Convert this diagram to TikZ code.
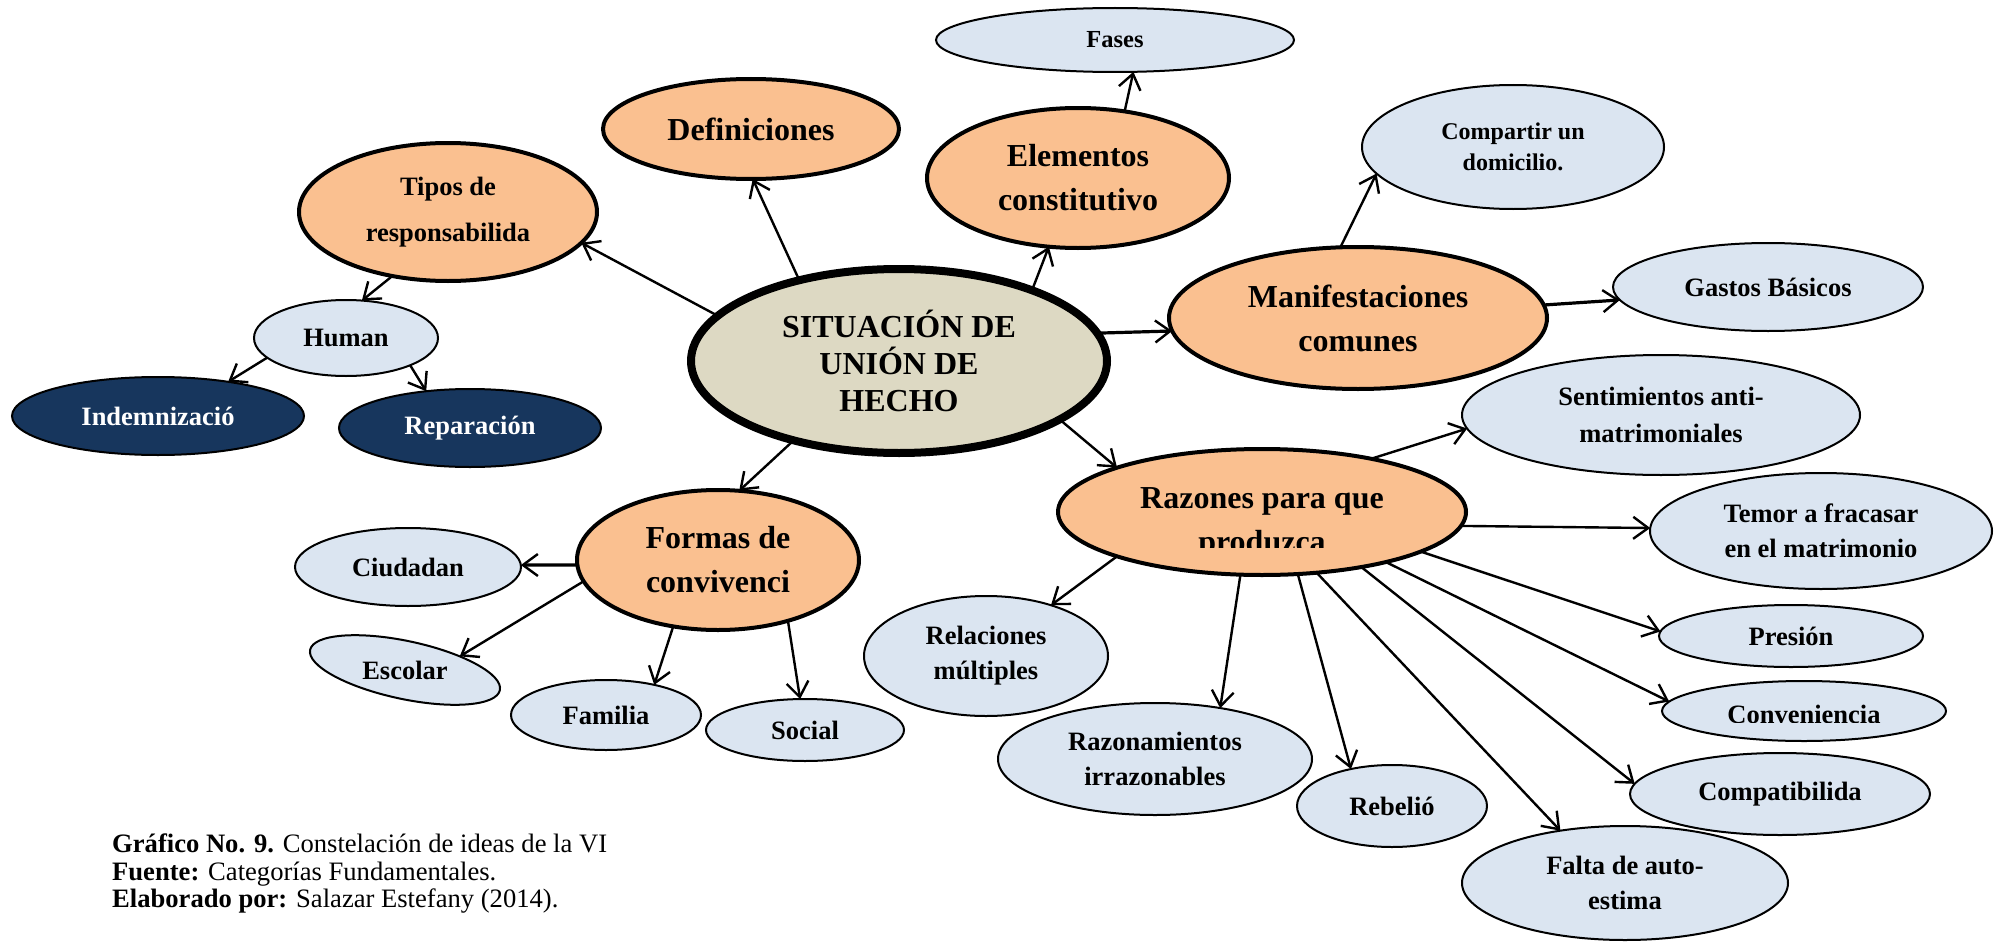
\documentclass[tikz,border=0pt]{standalone}
\usepackage{fontspec}
\setmainfont{Liberation Serif}
\usetikzlibrary{arrows.meta,shapes.geometric}
\definecolor{orangef}{HTML}{FAC090}
\definecolor{bluef}{HTML}{DBE5F1}
\definecolor{navyf}{HTML}{17365D}
\definecolor{centerf}{HTML}{DDD9C3}
\begin{document}
\begin{tikzpicture}[x=1pt,y=-1pt,
  base/.style={ellipse, draw=black, inner sep=0pt, outer sep=0pt, align=center, font=\bfseries\fontsize{26.5}{35}\selectfont},
  orangebox/.style={base, fill=orangef, line width=4pt, font=\bfseries\fontsize{32}{44}\selectfont},
  bluebox/.style={base, fill=bluef, line width=2pt},
  navybox/.style={base, fill=navyf, line width=2pt, text=white},
  mainbox/.style={base, fill=centerf, line width=8pt, font=\bfseries\fontsize{32}{37}\selectfont},
  wh/.style 2 args={minimum width=#1pt, minimum height=#2pt},
  arr/.style={line width=2.4pt, -{Straight Barb[length=15pt,width=22pt,line width=2.4pt]}},
  plaintext/.style={inner sep=0pt, outer sep=0pt, align=center},
]
\useasboundingbox (0,0) rectangle (1995,942);

% central node
\node[mainbox, wh={416}{184}] (center) at (899,361) {SITUACIÓN DE\\UNIÓN DE\\HECHO};

% upper left
\node[orangebox, wh={296}{100}] (defi) at (751,129) {Definiciones};
\node[orangebox, wh={298}{138}, font=\bfseries\fontsize{26.5}{46}\selectfont] (tipos) at (448,212) {Tipos de\\responsabilida};
\node[bluebox, wh={184}{76}] (human) at (346,338) {Human};
\node[navybox, wh={292}{78}] (indem) at (158,416) {Indemnizació};
\node[navybox, wh={262}{78}] (repar) at (470,428) {Reparación};

% upper right
\node[bluebox, wh={358}{64}, font=\bfseries\fontsize{24.5}{30}\selectfont] (fases) at (1115,40) {Fases};
\node[orangebox, wh={302}{140}] (elem) at (1078,178) {Elementos\\constitutivo};
\node[bluebox, wh={302}{124}, font=\bfseries\fontsize{24}{31}\selectfont] (compart) at (1513,147) {Compartir un\\domicilio.};
\node[orangebox, wh={378}{142}] (manif) at (1358,318) {Manifestaciones\\comunes};
\node[bluebox, wh={310}{88}] (gastos) at (1768,287) {Gastos Básicos};
\node[bluebox, wh={398}{120}, font=\bfseries\fontsize{26.5}{37}\selectfont] (senti) at (1661,415) {Sentimientos anti-\\matrimoniales};

% razones
\node[orangebox, wh={408}{126}] (razones) at (1262,512) {};
\begin{scope}
  \clip (1100,470) rectangle (1430,547);
  \node[plaintext, font=\bfseries\fontsize{32}{44}\selectfont] (raztext) at (1262,523) {Razones para que\\produzca};
\end{scope}
\node[bluebox, wh={342}{116}] (temor) at (1821,531) {Temor a fracasar\\en el matrimonio};
\node[bluebox, wh={264}{62}] (presion) at (1791,636) {Presión};
\node[bluebox, wh={284}{60}] (conven) at (1804,711) {};
\begin{scope}
  \clip (1700,690) rectangle (1910,722);
  \node[plaintext, font=\bfseries\fontsize{26.5}{35}\selectfont] (convtext) at (1804,714) {Conveniencia};
\end{scope}
\node[bluebox, wh={300}{82}] (compat) at (1780,794) {Compatibilida};
\node[bluebox, wh={326}{114}] (falta) at (1625,883) {Falta de auto-\\estima};
\node[bluebox, wh={190}{82}] (rebelio) at (1392,806) {Rebelió};
\node[bluebox, wh={314}{112}] (razonam) at (1155,759) {Razonamientos\\irrazonables};
\node[bluebox, wh={244}{120}] (relac) at (986,656) {Relaciones\\múltiples};

% formas
\node[orangebox, wh={282}{140}] (formas) at (718,560) {Formas de\\convivenci};
\node[bluebox, wh={226}{78}] (ciudad) at (408,567) {Ciudadan};
\node[bluebox, wh={194}{58}, rotate=-12] (escolar) at (405,670) {\rotatebox{12}{Escolar}};
\node[bluebox, wh={190}{70}] (familia) at (606,715) {Familia};
\node[bluebox, wh={198}{62}] (social) at (805,730) {Social};

% caption
\node[anchor=north west, align=left, inner sep=0pt, font=\fontsize{26.6}{27.5}\selectfont] (caption) at (112,834)
  {\textbf{Gráfico No. 9.} Constelación de ideas de la VI\\
   \textbf{Fuente:} Categorías Fundamentales.\\
   \textbf{Elaborado por:} Salazar Estefany (2014).};

% connectors
\draw[arr] (center.166) -- (tipos.-13);
\draw[arr] (center.141) -- (defi.-88);
\draw[arr] (tipos.-131) -- (human.67);
\draw[arr] (human.-166) -- (indem.26);
\draw[arr] (human.-23) -- (repar.140);
\draw[arr] (center.-143) -- (formas.73);
\draw[arr] (elem.55) -- (fases.-60);
\draw[arr] (center.28) -- (elem.-113);
\draw[arr] (manif.104) -- (compart.-169);
\draw[arr, line width=3.2pt] (center.8) -- (manif.-176);
\draw[arr, line width=3.2pt] (manif.4) -- (gastos.-175);
\draw[arr] (center.-20) -- (razones.163);
\draw[arr] (razones.26) -- (senti.-176);
\draw[arr] (razones.-4) -- (temor.179);
\draw[arr] (razones.-14) -- (presion.178);
\draw[arr] (razones.-22) -- (conven.176);
\draw[arr] (razones.-29) -- (compat.176);
\draw[arr] (razones.-48) -- (falta.141);
\draw[arr] (razones.-60) -- (rebelio.138);
\draw[arr] (razones.-109) -- (razonam.38);
\draw[arr] (razones.-163) -- (relac.38);
\draw[arr, line width=3.2pt] (formas.-178) -- (ciudad.1);
\draw[arr] (formas.-171) -- (escolar.26);
\draw[arr] (formas.-124) -- (familia.32);
\draw[arr] (formas.-41) -- (social.99);
\end{tikzpicture}
\end{document}
